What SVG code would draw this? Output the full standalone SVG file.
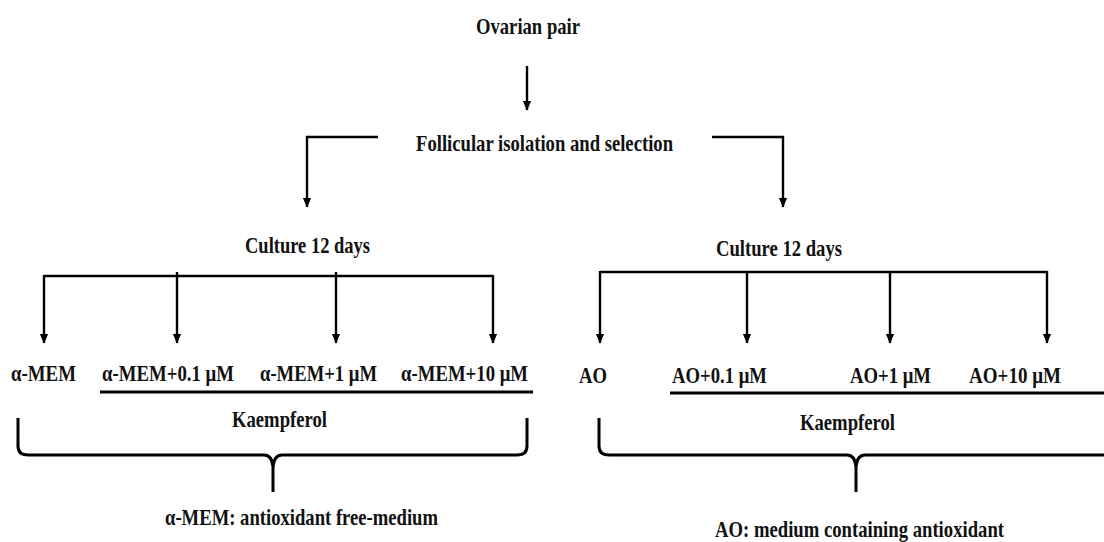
<svg xmlns="http://www.w3.org/2000/svg" width="1104" height="542" viewBox="0 0 1104 542">
<defs>
<style>
text{font-family:'Liberation Serif','Times New Roman',serif;font-weight:bold;font-size:23px;fill:#111;}
.ln{fill:none;stroke:#000;stroke-width:2.6;}
.ar{fill:none;stroke:#000;stroke-width:2.4;marker-end:url(#ah);}
.br{fill:none;stroke:#000;stroke-width:3;stroke-linejoin:round;}
</style>
<marker id="ah" markerUnits="userSpaceOnUse" markerWidth="10" markerHeight="12" refX="11" refY="5" orient="auto" viewBox="0 0 12 10">
<path d="M0,0 L12,5 L0,10 z" fill="#000"/>
</marker>
</defs>
<rect width="1104" height="542" fill="#fff"/>
<g id="connectors">
<path class="ar" d="M527,66 V110"/>
<path class="ar" d="M378,137 H307 V207"/>
<path class="ar" d="M712,137 H783 V207"/>
<path class="ln" d="M44,276 H493"/>
<path class="ar" d="M44,275 V343"/>
<path class="ar" d="M177,272 V343"/>
<path class="ar" d="M336,272 V343"/>
<path class="ar" d="M493,275 V343"/>
<path class="ln" d="M600,272 H1047"/>
<path class="ar" d="M600,271 V343"/>
<path class="ar" d="M747,272 V343"/>
<path class="ar" d="M890,272 V343"/>
<path class="ar" d="M1047,271 V343"/>
<path class="ln" style="stroke-width:3" d="M100,392 H533"/>
<path class="ln" style="stroke-width:3" d="M670,393 H1104"/>
<path class="br" d="M18,418 V446 Q18,455 28,455 H264 Q272,455 273,467 V492 M273,467 Q274,455 282,455 H517 Q527,455 527,446 V418"/>
<path class="br" d="M599,418 V446 Q599,455 609,455 H847 Q855,455 856,467 V492 M856,467 Q857,455 865,455 H1104"/>
</g>
<g font-family="'Liberation Serif', 'Times New Roman', serif">
<g id="n-ovarian"><text x="476" y="34" textLength="104" lengthAdjust="spacingAndGlyphs">Ovarian pair</text></g>
<g id="n-follicular"><text x="416" y="151" textLength="257" lengthAdjust="spacingAndGlyphs">Follicular isolation and selection</text></g>
<g id="n-culture-left"><text x="245" y="253" textLength="125" lengthAdjust="spacingAndGlyphs">Culture 12 days</text></g>
<g id="n-culture-right"><text x="716" y="256" textLength="126" lengthAdjust="spacingAndGlyphs">Culture 12 days</text></g>
<g id="n-amem"><text x="11" y="381" textLength="65" lengthAdjust="spacingAndGlyphs">α-MEM</text></g>
<g id="n-amem01"><text x="102" y="381" textLength="132" lengthAdjust="spacingAndGlyphs">α-MEM+0.1 μM</text></g>
<g id="n-amem1"><text x="260" y="381" textLength="117" lengthAdjust="spacingAndGlyphs">α-MEM+1 μM</text></g>
<g id="n-amem10"><text x="401" y="381" textLength="127" lengthAdjust="spacingAndGlyphs">α-MEM+10 μM</text></g>
<g id="n-ao"><text x="579" y="383" textLength="28" lengthAdjust="spacingAndGlyphs">AO</text></g>
<g id="n-ao01"><text x="672" y="383" textLength="95" lengthAdjust="spacingAndGlyphs">AO+0.1 μM</text></g>
<g id="n-ao1"><text x="850" y="383" textLength="81" lengthAdjust="spacingAndGlyphs">AO+1 μM</text></g>
<g id="n-ao10"><text x="969" y="383" textLength="92" lengthAdjust="spacingAndGlyphs">AO+10 μM</text></g>
<g id="n-kaempferol-left"><text x="232" y="427" textLength="95" lengthAdjust="spacingAndGlyphs">Kaempferol</text></g>
<g id="n-kaempferol-right"><text x="800" y="430" textLength="95" lengthAdjust="spacingAndGlyphs">Kaempferol</text></g>
<g id="n-amem-note"><text x="165" y="525" textLength="273" lengthAdjust="spacingAndGlyphs">α-MEM: antioxidant free-medium</text></g>
<g id="n-ao-note"><text x="715" y="537" textLength="289" lengthAdjust="spacingAndGlyphs">AO: medium containing antioxidant</text></g>
</g>
</svg>
